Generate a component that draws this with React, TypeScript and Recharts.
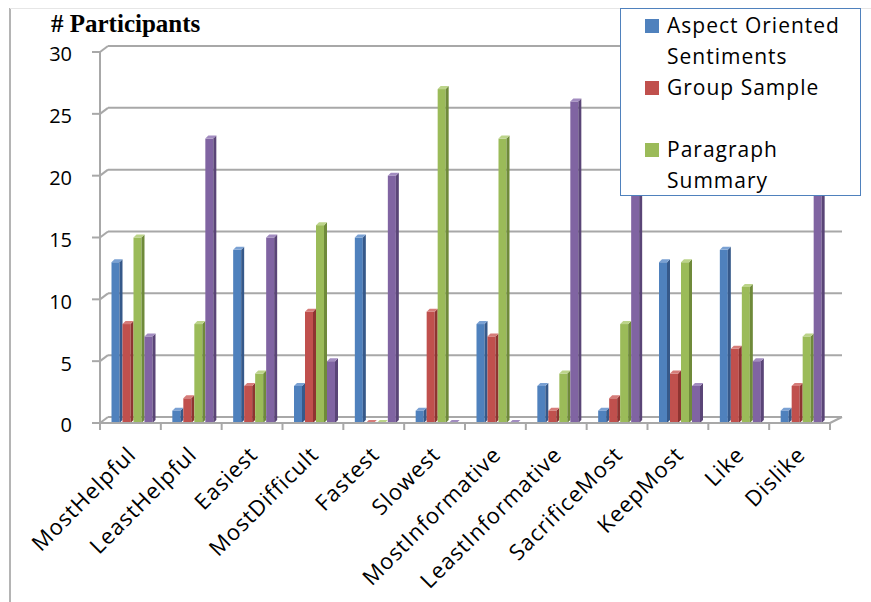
import React from 'react';
import { BarChart, Bar, XAxis, YAxis, CartesianGrid } from 'recharts';

const categories = [
  'MostHelpful', 'LeastHelpful', 'Easiest', 'MostDifficult', 'Fastest', 'Slowest',
  'MostInformative', 'LeastInformative', 'SacrificeMost', 'KeepMost', 'Like', 'Dislike',
];
const aspectOriented = [13, 1, 14, 3, 15, 1, 8, 3, 1, 13, 14, 1];
const groupSample = [8, 2, 3, 9, 0, 9, 7, 1, 2, 4, 6, 3];
const paragraphSummary = [15, 8, 4, 16, 0, 27, 23, 4, 8, 13, 11, 7];
const fourthSeries = [7, 23, 15, 5, 20, 0, 0, 26, 20, 3, 5, 20];
const yTicks = [0, 5, 10, 15, 20, 25, 30];

const seriesKeys = ['aos', 'gs', 'ps', 's4'];
const seriesNames = ['Aspect Oriented Sentiments', 'Group Sample', 'Paragraph Summary', 'Series 4'];
const seriesFront = ['#4f81bd', '#c0504d', '#9bbb59', '#8064a2'];
const seriesSide = ['#36598a', '#8e3431', '#6f8a3a', '#5a4577'];
const seriesTop = ['#7aa1d3', '#d67c79', '#bcd48a', '#a28cc0'];
const legendShown = [true, true, true, false];

const data = categories.map((c, i) => ({
  category: c,
  aos: aspectOriented[i],
  gs: groupSample[i],
  ps: paragraphSummary[i],
  s4: fourthSeries[i],
}));

const FONT = '"Open Sans", "DejaVu Sans", sans-serif';
const GRID = '#a8a8a8';

const makeShape = (front: string, side: string, top: string) => (props: any) => {
  const { x, y, width, height } = props;
  if (x == null || y == null || isNaN(x) || isNaN(y)) return <g />;
  const d = 3;
  const sx = x + 3.5;
  const w = Math.max(width - d, 1);
  const h = Math.max(height, 0);
  return (
    <g>
      <rect x={sx} y={y} width={w} height={h} fill={front} />
      <polygon points={`${sx + w},${y} ${sx + w + d},${y - d} ${sx + w + d},${y + h - d} ${sx + w},${y + h}`} fill={side} />
      <polygon points={`${sx},${y} ${sx + d},${y - d} ${sx + w + d},${y - d} ${sx + w},${y}`} fill={top} />
    </g>
  );
};

const XTick = (props: any) => {
  const { x, y, payload, index, visibleTicksCount } = props;
  const half = payload && payload.offset ? payload.offset : 30.4;
  const ax = x + 7;
  const ay = y + 33;
  const last = index === (visibleTicksCount ?? categories.length) - 1;
  return (
    <g>
      <line x1={x - half} y1={y} x2={x - half} y2={y + 7} stroke={GRID} strokeWidth={2} />
      {last && <line x1={x + half} y1={y} x2={x + half} y2={y + 7} stroke={GRID} strokeWidth={2} />}
      <text
        x={ax}
        y={ay}
        textAnchor="end"
        transform={`rotate(-45 ${ax} ${ay})`}
        fontSize={22}
        letterSpacing={1}
        fontFamily={FONT}
        fill="#000"
      >
        {payload.value}
      </text>
    </g>
  );
};

const YTick = (props: any) => {
  const { x, y, payload } = props;
  return (
    <g>
      <line x1={x - 8} y1={y} x2={x} y2={y} stroke={GRID} strokeWidth={2} />
      <text x={72} y={y + 4} textAnchor="end" dominantBaseline="middle" fontSize={20} fontFamily={FONT} fill="#000">
        {payload.value}
      </text>
    </g>
  );
};

const gridLine = (p: any) => {
  const { x1, y1, x2 } = p;
  return (
    <g key={p.key ?? `g-${y1}`}>
      <line x1={x1} y1={y1} x2={x1 + 8} y2={y1 - 6} stroke={GRID} strokeWidth={2} />
      <line x1={x1 + 8} y1={y1 - 6} x2={x2 + 12} y2={y1 - 6} stroke={GRID} strokeWidth={2} />
      {y1 > 400 && <line x1={x2} y1={y1} x2={x2 + 12} y2={y1 - 6} stroke={GRID} strokeWidth={2} />}
    </g>
  );
};

export default function App() {
  return (
    <div style={{ position: 'absolute', left: 0, top: 0, width: 871, height: 602, background: '#fff', overflow: 'hidden' }}>
      <div style={{ position: 'absolute', left: 9, top: 8, width: 2, height: 594, background: '#b4b4b4' }} />
      <div style={{ position: 'absolute', left: 10, top: 8, width: 861, height: 1, background: '#e6e6e6' }} />
      <div
        style={{
          position: 'absolute', left: 51, top: 10, fontFamily: '"Liberation Serif", "Times New Roman", serif',
          fontWeight: 'bold', fontSize: 25, color: '#000', whiteSpace: 'nowrap', letterSpacing: 0,
        }}
      >
        # Participants
      </div>
      <BarChart
        width={871}
        height={602}
        data={data}
        margin={{ top: 52, right: 41, bottom: 29, left: 0 }}
        barSize={11}
        barGap={0}
        style={{ position: 'absolute', left: 0, top: 0 }}
      >
        <CartesianGrid vertical={false} horizontal={gridLine} />
        <XAxis
          dataKey="category"
          height={150}
          interval={0}
          tickLine={false}
          tickSize={0}
          tickMargin={0}
          axisLine={{ stroke: GRID, strokeWidth: 2 }}
          tick={<XTick />}
        />
        <YAxis
          width={100}
          domain={[0, 30]}
          ticks={yTicks}
          interval={0}
          tickLine={false}
          tickSize={0}
          tickMargin={0}
          axisLine={{ stroke: GRID, strokeWidth: 2 }}
          tick={<YTick />}
        />
        {seriesKeys.map((k, i) => (
          <Bar
            key={k}
            dataKey={k}
            name={seriesNames[i]}
            fill={seriesFront[i]}
            isAnimationActive={false}
            shape={makeShape(seriesFront[i], seriesSide[i], seriesTop[i])}
          />
        ))}
      </BarChart>
      <div
        style={{
          position: 'absolute', left: 620, top: 8, width: 239, height: 185,
          border: '1.5px solid #4f81bd', background: '#fff', paddingTop: 1,
          fontFamily: FONT, fontSize: 21, letterSpacing: 1, color: '#000',
        }}
      >
        {seriesNames.map((n, i) =>
          legendShown[i] ? (
            <div key={n} style={{ position: 'relative', height: 62, lineHeight: '31px' }}>
              <div style={{ position: 'absolute', left: 24, top: 9, width: 14, height: 14, background: seriesFront[i] }} />
              <div style={{ marginLeft: 46, width: 190 }}>{n}</div>
            </div>
          ) : null
        )}
      </div>
    </div>
  );
}
